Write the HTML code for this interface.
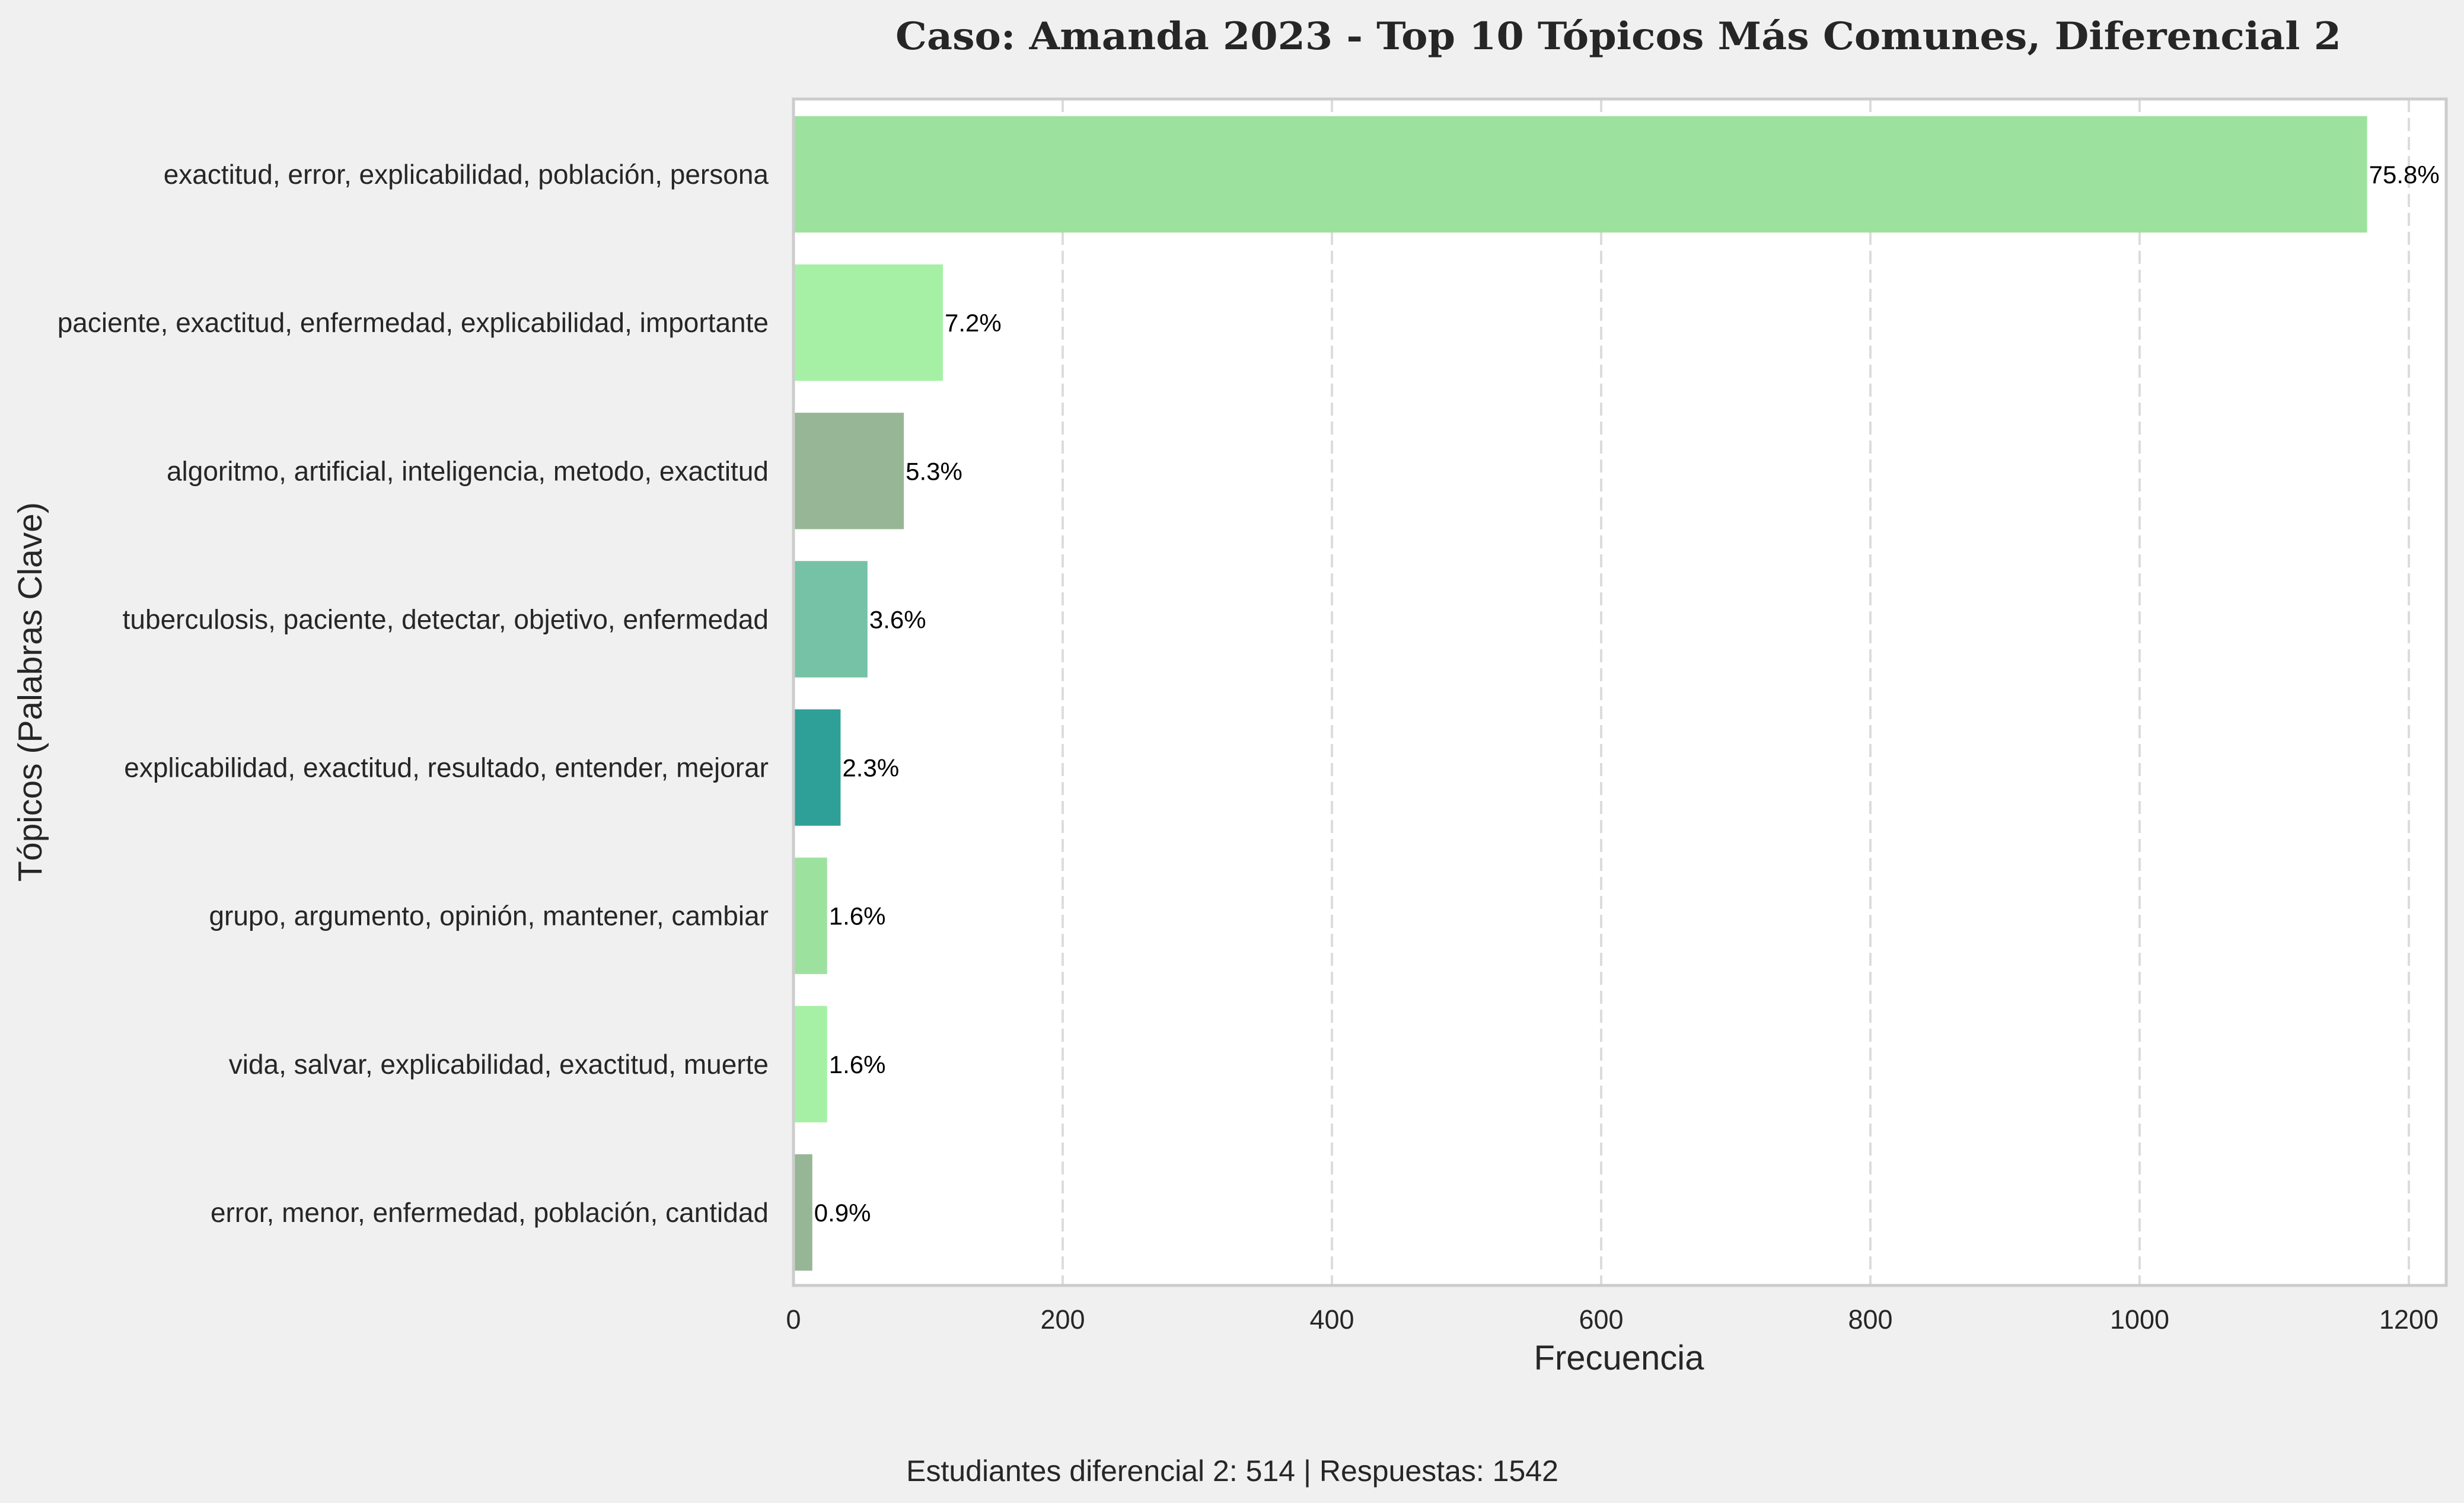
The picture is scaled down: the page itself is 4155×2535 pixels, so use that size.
<!DOCTYPE html>
<html><head><meta charset="utf-8"><style>
html,body{margin:0;padding:0;background:#f0f0f0;}
svg{display:block;}
text{font-family:"Liberation Sans",sans-serif;}
</style></head><body>
<svg id="chart" width="4155" height="2535" viewBox="0 0 4155 2535" xmlns="http://www.w3.org/2000/svg">
<rect x="0" y="0" width="4155" height="2535" fill="#f0f0f0"/>
<rect x="1338" y="167" width="2787" height="2001" fill="#ffffff"/>
<g id="grid"></g>
<g id="bars"></g>
<g id="ylabels"></g>
<g id="xticks"></g>
<rect x="1338" y="167" width="2787" height="2001" fill="none" stroke="#cccccc" stroke-width="5"/>
<text x="1510" y="83" textLength="2438" lengthAdjust="spacingAndGlyphs" font-weight="bold" font-size="64" fill="#262626" style="font-family:'DejaVu Serif','Liberation Serif',serif">Caso: Amanda 2023 - Top 10 Tópicos Más Comunes, Diferencial 2</text>
<text x="2730" y="2310" text-anchor="middle" font-size="58" fill="#262626">Frecuencia</text>
<text transform="translate(70,1167) rotate(-90)" text-anchor="middle" font-size="57" fill="#262626">Tópicos (Palabras Clave)</text>
<text x="2078" y="2498" text-anchor="middle" font-size="50" fill="#262626">Estudiantes diferencial 2: 514 | Respuestas: 1542</text>
</svg>
<script>
const categories = [
  "exactitud, error, explicabilidad, población, persona",
  "paciente, exactitud, enfermedad, explicabilidad, importante",
  "algoritmo, artificial, inteligencia, metodo, exactitud",
  "tuberculosis, paciente, detectar, objetivo, enfermedad",
  "explicabilidad, exactitud, resultado, entender, mejorar",
  "grupo, argumento, opinión, mantener, cambiar",
  "vida, salvar, explicabilidad, exactitud, muerte",
  "error, menor, enfermedad, población, cantidad"
];
const values = [1169, 111, 82, 55, 35, 25, 25, 14];
const pctLabels = ["75.8%", "7.2%", "5.3%", "3.6%", "2.3%", "1.6%", "1.6%", "0.9%"];
const colors = ["#9de19e", "#a6f0a6", "#97b695", "#76c2a6", "#2ea098", "#9de19e", "#a6f0a6", "#97b695"];
const xTicks = [0, 200, 400, 600, 800, 1000, 1200];

const NS = "http://www.w3.org/2000/svg";
const X0 = 1338, X1 = 4125, Y0 = 167, Y1 = 2168;
const pxPerUnit = 2.27;
function xScale(v){ return X0 + v * pxPerUnit; }
const slot = (Y1 - Y0) / categories.length;
function yCenter(i){ return Y0 + slot * (i + 0.5) + 2; }
const barH = slot * 0.785;

function mk(tag, attrs){ const e = document.createElementNS(NS, tag); for (const k in attrs) e.setAttribute(k, attrs[k]); return e; }

const grid = document.getElementById('grid');
const xt = document.getElementById('xticks');
xTicks.forEach(t => {
  const x = xScale(t);
  if (t > 0) {
    const l = mk('line', {x1:x, x2:x, y1:Y0, y2:Y1, stroke:'#dcdcdc', 'stroke-width':4, 'stroke-dasharray':'22,10'});
    
    
    grid.appendChild(l);
  }
  const tx = mk('text', {x:x, y:2241, 'text-anchor':'middle', 'font-size':45, fill:'#262626'});
  tx.textContent = t;
  
  
  xt.appendChild(tx);
});

const bars = document.getElementById('bars');
const yl = document.getElementById('ylabels');
categories.forEach((c, i) => {
  const cy = yCenter(i);
  const r = mk('rect', {x:X0, y:cy - barH/2, width:xScale(values[i]) - X0, height:barH, fill:colors[i]});
  
  
  bars.appendChild(r);
  const v = mk('text', {x:xScale(values[i]) + 3, y:cy + 15, 'font-size':42, fill:'#000000'});
  v.textContent = pctLabels[i];
  
  
  bars.appendChild(v);
  const lab = mk('text', {x:1296, y:cy + 16, 'text-anchor':'end', 'font-size':46, fill:'#262626'});
  lab.textContent = c;
  
  
  yl.appendChild(lab);
});
</script>
</body></html>
